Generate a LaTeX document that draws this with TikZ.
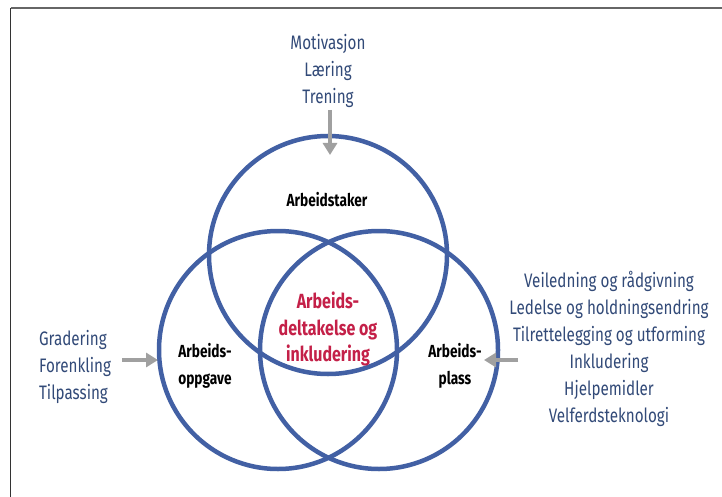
\documentclass[tikz,border=0pt]{standalone}
\usepackage{fontspec}
\setmainfont[FakeStretch=0.78]{Fira Sans}
\usetikzlibrary{arrows.meta}
\definecolor{ringblue}{RGB}{66,96,164}
\definecolor{txtblue}{RGB}{50,74,120}
\definecolor{redtxt}{RGB}{196,32,72}
\definecolor{arrgray}{RGB}{160,160,160}
\tikzset{
  ring/.style={circle, draw=ringblue, line width=4.5pt, minimum size=238pt, inner sep=0pt},
  listtxt/.style={text=txtblue, font=\fontsize{19.5}{27}\selectfont, inner sep=0pt},
  lbl/.style={text=black, font=\fontsize{17.5}{27}\selectfont\bfseries, inner sep=0pt},
  ctr/.style={text=redtxt, font=\fontsize{20.5}{26.5}\selectfont\bfseries, inner sep=0pt, align=center},
  grayarrow/.style={draw=arrgray, line width=4pt, -{Triangle[width=14pt,length=12pt]}}
}
\begin{document}
\begin{tikzpicture}[x=1pt,y=-1pt]
\useasboundingbox (0,0) rectangle (722,497);
\fill[white] (0,0) rectangle (722,497);
% frame
\coordinate (fA) at (10.5,497);
\coordinate (fB) at (10.5,8.5);
\coordinate (fC) at (722,8.5);
\draw[black!80, line width=1.2pt] (fA) -- (fB);
\draw[black!60, line width=2pt] (fB) -- (fC);
% rings
\node[ring] (top) at (328,255) {};
\node[ring] (left) at (278,350) {};
\node[ring] (right) at (379,350) {};
% labels
\node[lbl] (ltop) at (327,200) {Arbeidstaker};
\node[lbl, align=left] (lleft) at (205,366) {Arbeids-\\oppgave};
\node[lbl, align=center] (lright) at (455,366) {Arbeids-\\plass};
\node[ctr] (center) at (328,329) {Arbeids-\\deltakelse og\\inkludering};
% lists
\node[listtxt, align=center] (ttop) at (328,71) {Motivasjon\\Læring\\Trening};
\node[listtxt, align=left] (tleft) at (75,367) {Gradering\\Forenkling\\Tilpassing};
\node[listtxt, align=center] (tright) at (609,349) {Veiledning og rådgivning\\Ledelse og holdningsendring\\Tilrettelegging og utforming\\Inkludering\\Hjelpemidler\\Velferdsteknologi};
% arrows
\coordinate (aTopS) at (330,110);
\coordinate (aTopE) at (330,155);
\coordinate (aLeftS) at (122,360);
\coordinate (aLeftE) at (158,360);
\coordinate (aRightS) at (518,360);
\coordinate (aRightE) at (484,360);
\draw[grayarrow] (aTopS) -- (aTopE);
\draw[grayarrow] (aLeftS) -- (aLeftE);
\draw[grayarrow] (aRightS) -- (aRightE);
\end{tikzpicture}
\end{document}
